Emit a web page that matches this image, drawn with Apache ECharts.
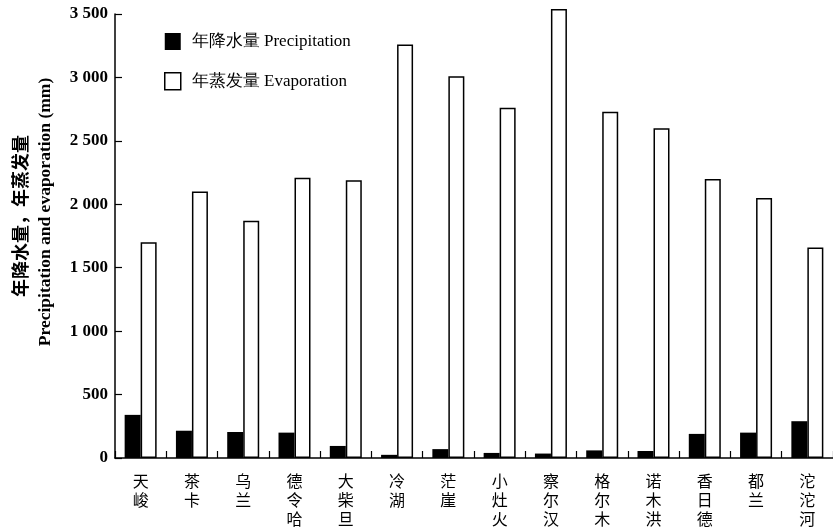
<!DOCTYPE html>
<html><head><meta charset="utf-8">
<script src="https://cdn.jsdelivr.net/npm/echarts@6/dist/echarts.min.js"></script>
<style>html,body{margin:0;padding:0;background:#fff}#c{width:833px;height:531px}</style>
</head><body><div id="c"></div>
<script>
var categories = ['天峻','茶卡','乌兰','德令哈','大柴旦','冷湖','茫崖','小灶火','察尔汉','格尔木','诺木洪','香日德','都兰','沱沱河'];
var precipitation = [340, 215, 205, 200, 95, 25, 70, 40, 35, 60, 55, 190, 200, 290];
var evaporation = [1700, 2100, 1870, 2210, 2190, 3260, 3010, 2760, 3540, 2730, 2600, 2200, 2050, 1660];
var yTicks = [0, 500, 1000, 1500, 2000, 2500, 3000, 3500];

var chart = echarts.init(document.getElementById('c'));
function fmt(v){ var s = String(v); return s.length > 3 ? s.slice(0, s.length-3) + ' ' + s.slice(-3) : s; }
chart.setOption({
  backgroundColor: '#fff',
  animation: false,
  grid: { left: 115, right: 0, top: 14, bottom: 73 },
  legend: {
    left: 159, top: 28, orient: 'vertical', itemGap: 22, itemWidth: 16, itemHeight: 17,
    textStyle: { fontFamily: 'Liberation Serif', fontSize: 17, color: '#000', padding: [0, 0, 0, 6] },
    data: [
      { name: '年降水量 Precipitation', icon: 'rect', itemStyle: { color: '#000', borderColor: '#000' } },
      { name: '年蒸发量 Evaporation', icon: 'rect', itemStyle: { color: '#fff', borderColor: '#000', borderWidth: 1.5 } }
    ]
  },
  xAxis: {
    type: 'category', data: categories, boundaryGap: true,
    axisLine: { lineStyle: { color: '#000', width: 1.5 } },
    axisTick: { show: true, inside: true, length: 7, lineStyle: { color: '#000', width: 1.2 } },
    axisLabel: {
      color: '#000', fontFamily: 'Noto Sans CJK SC', fontSize: 16, lineHeight: 19, margin: 13,
      formatter: function(v){ return v.split('').join('\n'); }
    }
  },
  yAxis: {
    type: 'value', min: 0, max: 3500, interval: 500,
    axisLine: { show: true, lineStyle: { color: '#000', width: 1.5 } },
    axisTick: { show: true, inside: true, length: 7, lineStyle: { color: '#000', width: 1.2 } },
    splitLine: { show: false },
    axisLabel: { color: '#000', fontFamily: 'Liberation Serif', fontWeight: 'bold', fontSize: 17, margin: 7,
      formatter: function(v){ return yTicks.indexOf(v) >= 0 ? fmt(v) : ''; } }
  },
  graphic: [
    { type: 'text', x: 20, y: 216, rotation: Math.PI/2,
      style: { text: '年降水量，年蒸发量', fontFamily: 'Noto Sans CJK SC', fontWeight: 'bold', fontSize: 18, fill: '#000', align: 'center', verticalAlign: 'middle' } },
    { type: 'text', x: 45, y: 212, rotation: Math.PI/2,
      style: { text: 'Precipitation and evaporation (mm)', fontFamily: 'Liberation Serif', fontWeight: 'bold', fontSize: 17.5, fill: '#000', align: 'center', verticalAlign: 'middle' } }
  ],
  series: [
    { name: '年降水量 Precipitation', type: 'bar', data: precipitation, barWidth: 16, barGap: '0%',
      itemStyle: { color: '#000', borderColor: '#000', borderWidth: 0 }, clip: false },
    { name: '年蒸发量 Evaporation', type: 'bar', data: evaporation, barWidth: 16,
      itemStyle: { color: '#fff', borderColor: '#000', borderWidth: 1.5 }, clip: false }
  ]
});
</script></body></html>
